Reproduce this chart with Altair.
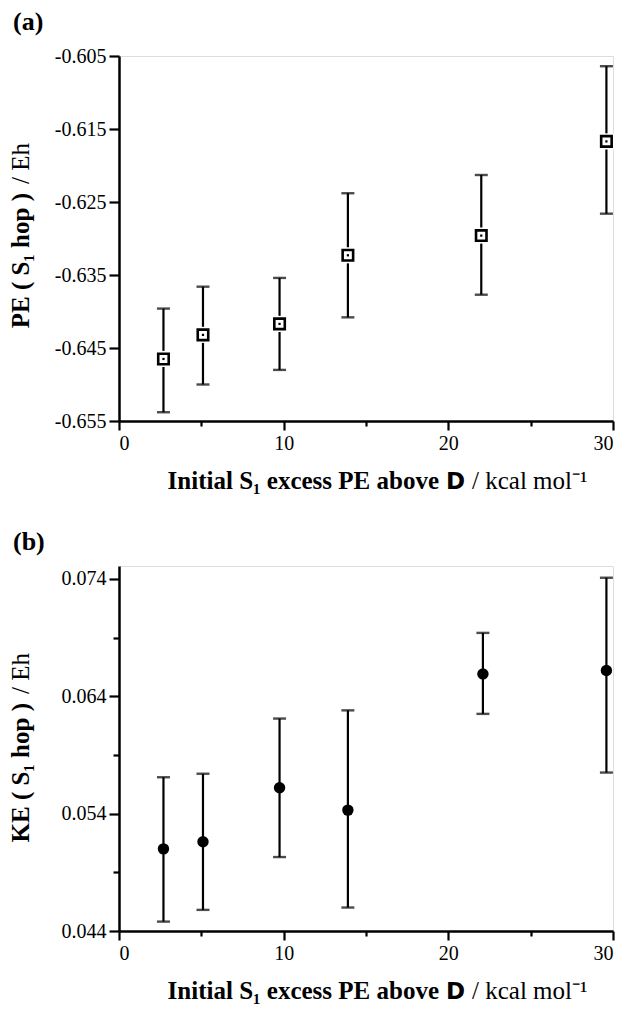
import altair as alt
import pandas as pd

# ---- data ----
x_vals = [2.7, 5.1, 9.75, 13.9, 22.0, 29.6]

pe_mean = [-0.6465, -0.6432, -0.6417, -0.6323, -0.6296, -0.6167]
pe_lo = [-0.6538, -0.6500, -0.6480, -0.6408, -0.6377, -0.6266]
pe_hi = [-0.6396, -0.6366, -0.6354, -0.6238, -0.6213, -0.6064]

ke_x = [2.7, 5.1, 9.75, 13.9, 22.1, 29.6]
ke_mean = [0.0510, 0.0516, 0.0562, 0.0543, 0.0659, 0.0662]
ke_lo = [0.0448, 0.0458, 0.0503, 0.0460, 0.0625, 0.0575]
ke_hi = [0.0571, 0.0574, 0.0621, 0.0628, 0.0694, 0.0741]

x_ticks = [0, 5, 10, 15, 20, 25, 30]
pe_ticks = [-0.655, -0.650, -0.645, -0.640, -0.635, -0.630, -0.625, -0.620, -0.615, -0.610, -0.605]
ke_ticks = [0.044, 0.049, 0.054, 0.059, 0.064, 0.069, 0.074]

W, H = 494, 365
SERIF = "Liberation Serif"
TFS = 25  # axis-title font size

dfa = pd.DataFrame({"x": x_vals, "m": pe_mean, "lo": pe_lo, "hi": pe_hi})
dfb = pd.DataFrame({"x": ke_x, "m": ke_mean, "lo": ke_lo, "hi": ke_hi})

def x_axis():
    return alt.Axis(
        values=x_ticks, title=None, grid=False,
        labelExpr="datum.value % 10 == 0 ? format(datum.value, 'd') : ''",
        tickSize={"condition": {"test": "datum.value % 10 == 0", "value": 9}, "value": 5},
        labelFont=SERIF, labelFontSize=20, labelColor="black", labelPadding=3,
        tickColor="black", tickWidth=2.2, domainColor="black", domainWidth=2.5,
    )

def y_axis(vals, major_test, fmt):
    return alt.Axis(
        values=vals, title=None, grid=False,
        labelExpr=f"({major_test}) ? replace(format(datum.value, '{fmt}'), '\u2212', '-') : ''",
        tickSize={"condition": {"test": major_test, "value": 10}, "value": 6},
        labelFont=SERIF, labelFontSize=20, labelColor="black", labelPadding=3,
        tickColor="black", tickWidth=2.2, domainColor="black", domainWidth=2.5,
    )

def panel(df, ydomain, yaxis, point_layers, ylab_bold, ylab_reg, title):
    xs = alt.Scale(domain=[0, 30], nice=False, zero=False)
    ys = alt.Scale(domain=ydomain, nice=False, zero=False)
    base = alt.Chart(df)
    bars = base.mark_rule(color="black", strokeWidth=2.2).encode(
        x=alt.X("x:Q", scale=xs, axis=x_axis()),
        y=alt.Y("lo:Q", scale=ys, axis=yaxis),
        y2="hi:Q",
    )
    cap_lo = base.mark_tick(orient="horizontal", color="black", size=13, thickness=2.4).encode(
        x="x:Q", y="lo:Q")
    cap_hi = base.mark_tick(orient="horizontal", color="black", size=13, thickness=2.4).encode(
        x="x:Q", y="hi:Q")
    pts = [layer(base) for layer in point_layers]

    # axis titles (mixed bold / regular)
    tdf = pd.DataFrame({"k": [0]})
    tb = alt.Chart(tdf)
    ty = H + 68
    xt1 = tb.mark_text(font=SERIF, fontSize=TFS, fontWeight="bold", align="right",
                       baseline="alphabetic", color="black").encode(
        x=alt.value(320), y=alt.value(ty), text=alt.value("Initial S\u2081 excess PE above"))
    xt2 = tb.mark_text(font="DejaVu Sans", fontSize=23, fontWeight="bold", align="left",
                       baseline="alphabetic", color="black").encode(
        x=alt.value(327), y=alt.value(ty), text=alt.value("D"))
    xt3 = tb.mark_text(font=SERIF, fontSize=TFS, align="left",
                       baseline="alphabetic", color="black").encode(
        x=alt.value(353), y=alt.value(ty), text=alt.value("/  kcal mol\u207b\u00b9"))
    yt1 = tb.mark_text(font=SERIF, fontSize=TFS, fontWeight="bold", angle=270, align="right",
                       baseline="middle", color="black").encode(
        x=alt.value(-98), y=alt.value(137), text=alt.value(ylab_bold))
    yt2 = tb.mark_text(font=SERIF, fontSize=TFS, angle=270, align="left",
                       baseline="middle", color="black").encode(
        x=alt.value(-98), y=alt.value(128), text=alt.value(ylab_reg))

    return alt.layer(bars, cap_lo, cap_hi, *pts, xt1, xt2, xt3, yt1, yt2).properties(
        width=W, height=H,
        title=alt.TitleParams(title, anchor="start", frame="bounds", font=SERIF,
                              fontSize=26, fontWeight="bold", color="black", offset=11, dx=4),
    )

sq_white = lambda b: b.mark_point(shape="square", size=260, filled=True, color="white", opacity=1).encode(
    x="x:Q", y="m:Q")
sq_black = lambda b: b.mark_point(shape="square", size=110, filled=False, color="black",
                                   strokeWidth=2.6, opacity=1).encode(x="x:Q", y="m:Q")
sq_dot = lambda b: b.mark_point(shape="square", size=5, filled=True, color="black", opacity=1).encode(
    x="x:Q", y="m:Q")
circ = lambda b: b.mark_point(shape="circle", size=130, filled=True, color="black", opacity=1).encode(
    x="x:Q", y="m:Q")

pa = panel(dfa, [-0.655, -0.605],
           y_axis(pe_ticks, "abs(round(datum.value*1000)) % 10 == 5", ".3f"),
           [sq_white, sq_black, sq_dot],
           "PE ( S\u2081 hop )", "/  Eh", "(a)")
pb = panel(dfb, [0.044, 0.0751],
           y_axis(ke_ticks, "round(datum.value*1000) % 10 == 4", ".3f"),
           [circ],
           "KE ( S\u2081 hop )", "/  Eh", "(b)")

chart = alt.vconcat(pa, pb, spacing=33).properties(
    padding={"left": 0, "top": 0, "right": 5, "bottom": 5}
).configure_view(
    stroke="black", strokeWidth=2.5
).configure(background="white")

chart.save("out.html", embed_options={"renderer": "svg", "actions": False})
